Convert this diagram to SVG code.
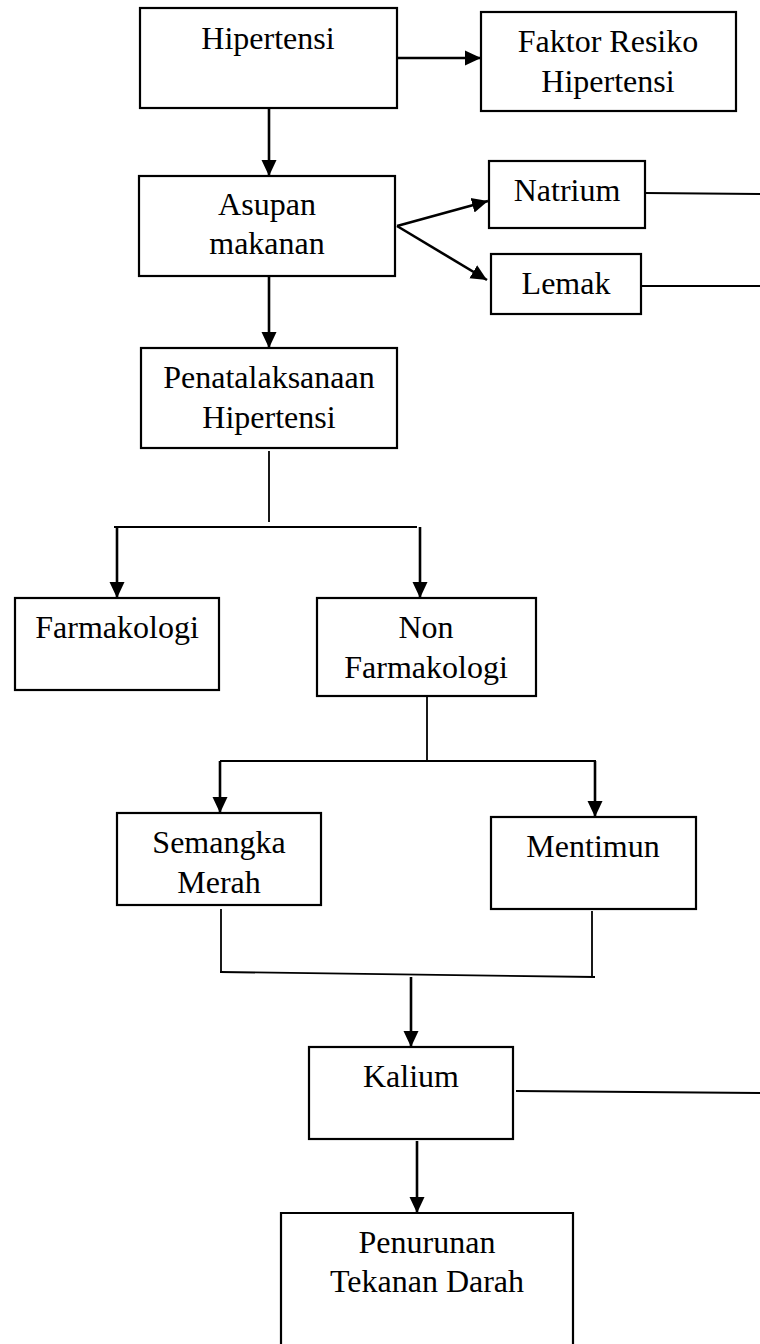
<svg xmlns="http://www.w3.org/2000/svg" width="760" height="1344" viewBox="0 0 760 1344">
<defs>
<style>
.box{fill:#fff;stroke:#000;stroke-width:2.2}
.t{font-family:"Liberation Serif","Times New Roman",serif;font-size:32px;fill:#000;text-anchor:middle}
.ln{fill:none;stroke:#000;stroke-width:1.8}
.ar{fill:none;stroke:#000;stroke-width:2.6;marker-end:url(#ah)}
</style>
<marker id="ah" viewBox="0 0 16 16" refX="16" refY="8" markerWidth="16" markerHeight="16" markerUnits="userSpaceOnUse" orient="auto">
<path d="M0,0.5 L16,8 L0,15.5 z" fill="#000"/>
</marker>
</defs>
<rect width="760" height="1344" fill="#fff"/>
<g id="connectors">
<line class="ar" x1="397" y1="58" x2="481" y2="58"/>
<line class="ar" x1="269" y1="108" x2="269" y2="176"/>
<line class="ar" x1="397" y1="226" x2="488" y2="201"/>
<line class="ar" x1="397" y1="226" x2="487" y2="280"/>
<line class="ln" x1="645" y1="193" x2="760" y2="194"/>
<line class="ln" x1="641" y1="286" x2="760" y2="286"/>
<line class="ar" x1="269" y1="276" x2="269" y2="348"/>
<line class="ln" x1="269" y1="451" x2="269" y2="522"/>
<line class="ln" x1="114" y1="527" x2="417" y2="527"/>
<line class="ar" x1="117" y1="527" x2="117" y2="598"/>
<line class="ar" x1="420" y1="527" x2="420" y2="598"/>
<line class="ln" x1="427" y1="696" x2="427" y2="762"/>
<line class="ln" x1="220" y1="761" x2="596" y2="761"/>
<line class="ar" x1="220" y1="761" x2="220" y2="813"/>
<line class="ar" x1="595" y1="761" x2="595" y2="817"/>
<line class="ln" x1="221" y1="909" x2="221" y2="973"/>
<line class="ln" x1="592" y1="911" x2="592" y2="977"/>
<line class="ln" x1="220" y1="972" x2="595" y2="977"/>
<line class="ar" x1="411" y1="977" x2="411" y2="1047"/>
<line class="ln" x1="516" y1="1091" x2="760" y2="1093"/>
<line class="ar" x1="417" y1="1141" x2="417" y2="1213"/>
</g>
<g id="n-hipertensi"><rect class="box" x="140" y="8" width="257" height="100"/><text class="t" x="268" y="49">Hipertensi</text></g>
<g id="n-faktor"><rect class="box" x="481" y="12" width="255" height="99"/><text class="t" x="608" y="52">Faktor Resiko</text><text class="t" x="608" y="92">Hipertensi</text></g>
<g id="n-asupan"><rect class="box" x="139" y="176" width="256" height="100"/><text class="t" x="267" y="215">Asupan</text><text class="t" x="267" y="254">makanan</text></g>
<g id="n-natrium"><rect class="box" x="489" y="161" width="156" height="67"/><text class="t" x="567" y="201">Natrium</text></g>
<g id="n-lemak"><rect class="box" x="491" y="254" width="150" height="60"/><text class="t" x="566" y="294">Lemak</text></g>
<g id="n-penatalaksanaan"><rect class="box" x="141" y="348" width="256" height="100"/><text class="t" x="269" y="388">Penatalaksanaan</text><text class="t" x="269" y="428">Hipertensi</text></g>
<g id="n-farmakologi"><rect class="box" x="15" y="598" width="204" height="92"/><text class="t" x="117" y="638">Farmakologi</text></g>
<g id="n-nonfarmakologi"><rect class="box" x="317" y="598" width="219" height="98"/><text class="t" x="426" y="638">Non</text><text class="t" x="426" y="678">Farmakologi</text></g>
<g id="n-semangka"><rect class="box" x="117" y="813" width="204" height="92"/><text class="t" x="219" y="853">Semangka</text><text class="t" x="219" y="893">Merah</text></g>
<g id="n-mentimun"><rect class="box" x="491" y="817" width="205" height="92"/><text class="t" x="593" y="857">Mentimun</text></g>
<g id="n-kalium"><rect class="box" x="309" y="1047" width="204" height="92"/><text class="t" x="411" y="1087">Kalium</text></g>
<g id="n-penurunan"><path class="box" d="M281,1350 L281,1213 L573,1213 L573,1350"/><text class="t" x="427" y="1253">Penurunan</text><text class="t" x="427" y="1292">Tekanan Darah</text></g>
</svg>
